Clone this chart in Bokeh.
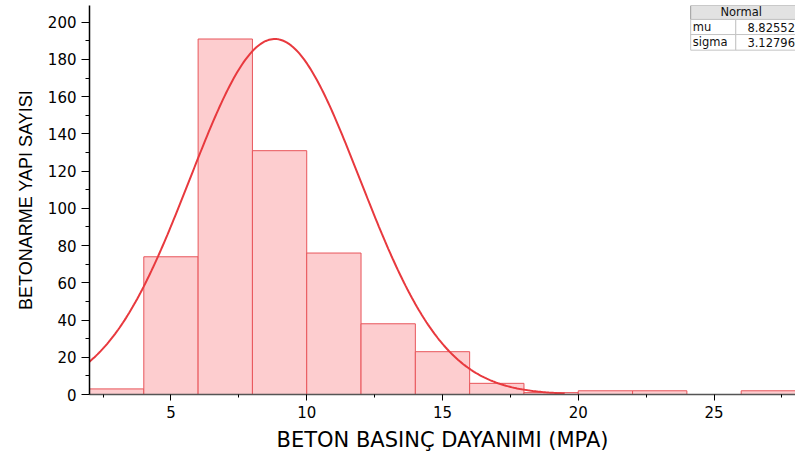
import numpy as np
from bokeh.plotting import figure
from bokeh.models import Range1d, FixedTicker, ColumnDataSource
from bokeh.core.properties import value
from bokeh.embed import file_html
from bokeh.resources import INLINE

# histogram data
bin_left = [2, 4, 6, 8, 10, 12, 14, 16, 18, 20, 22, 24, 26]
bin_right = [4, 6, 8, 10, 12, 14, 16, 18, 20, 22, 24, 26, 28]
counts = [3, 74, 191, 131, 76, 38, 23, 6, 1, 2, 2, 0, 2]

# fitted normal parameters
mu = 8.82552
sigma = 3.12796

x_ticks = [5, 10, 15, 20, 25]
x_minor = [2.5, 7.5, 12.5, 17.5, 22.5, 27.5]
y_ticks = [0, 20, 40, 60, 80, 100, 120, 140, 160, 180, 200]
y_minor = [10, 30, 50, 70, 90, 110, 130, 150, 170, 190]

FONT = "DejaVu Sans"

p = figure(width=795, height=454, output_backend="svg", toolbar_location=None,
           x_range=Range1d(2, 28), y_range=Range1d(0, 209),
           min_border_left=89, min_border_right=0, min_border_top=5, min_border_bottom=60)
p.xgrid.visible = False
p.ygrid.visible = False
p.outline_line_color = None

src = ColumnDataSource(dict(left=bin_left, right=bin_right, top=counts))
p.quad(left="left", right="right", bottom=0, top="top", source=src,
       fill_color="#fdcdcf", line_color="#e8555a", line_width=1)

xs = np.linspace(2, 19.5, 300)
ys = max(counts) * np.exp(-(xs - mu) ** 2 / (2 * sigma ** 2))
p.line(xs, ys, line_color="#e8393e", line_width=2)

# parameter table (top-right)
p.quad(left=24.14, right=28, bottom=201.5, top=209, fill_color="#e2e2e2", line_color="#9a9a9a", line_width=1)
p.quad(left=[24.14, 25.8], right=[25.8, 28], bottom=[185, 185], top=[201.5, 201.5],
       fill_color="white", line_color="#c4c4c4", line_width=1)
p.segment(x0=24.14, x1=28, y0=193.4, y1=193.4, line_color="#c4c4c4", line_width=1)
p.text(x=[26.0], y=[205.3], text=["Normal"], text_font=value(FONT), text_font_size="11.5px",
       text_align="center", text_baseline="middle", text_color="#111111")
p.text(x=[24.22, 24.22], y=[197.4, 189.2], text=["mu", "sigma"], text_font=value(FONT),
       text_font_size="11.5px", text_align="left", text_baseline="middle", text_color="#111111")
p.text(x=[27.98, 27.98], y=[197.4, 189.2], text=[f"{mu:.5f}", f"{sigma:.5f}"], text_font=value(FONT),
       text_font_size="11.5px", text_align="right", text_baseline="middle", text_color="#111111")

for ax in (p.xaxis[0], p.yaxis[0]):
    ax.axis_line_width = 1.5
    ax.major_tick_line_color = "black"
    ax.minor_tick_line_color = "black"
    ax.major_tick_in = 0
    ax.minor_tick_in = 0
    ax.major_label_text_font = FONT
    ax.major_label_text_font_size = "15px"
    ax.major_label_text_color = "black"
    ax.axis_label_text_font_style = "normal"
    ax.axis_label_text_color = "black"

p.xaxis.axis_line_color = "#555555"
p.yaxis.axis_line_color = "black"
p.xaxis.major_tick_out = 6
p.xaxis.minor_tick_out = 3
p.yaxis.major_tick_out = 8
p.yaxis.minor_tick_out = 4

p.xaxis.ticker = FixedTicker(ticks=x_ticks, minor_ticks=x_minor)
p.yaxis.ticker = FixedTicker(ticks=y_ticks, minor_ticks=y_minor)
p.xaxis.axis_label = "BETON BASINÇ DAYANIMI (MPA)"
p.yaxis.axis_label = "BETONARME YAPI SAYISI"
p.xaxis.axis_label_text_font = FONT
p.xaxis.axis_label_text_font_size = "21px"
p.yaxis.axis_label_text_font = "Liberation Sans"
p.yaxis.axis_label_text_font_size = "18px"
p.xaxis.axis_label_standoff = 7
p.yaxis.axis_label_standoff = 9
p.xaxis.major_label_standoff = 5
p.yaxis.major_label_standoff = 5

open("out.html", "w").write(file_html(p, INLINE))
